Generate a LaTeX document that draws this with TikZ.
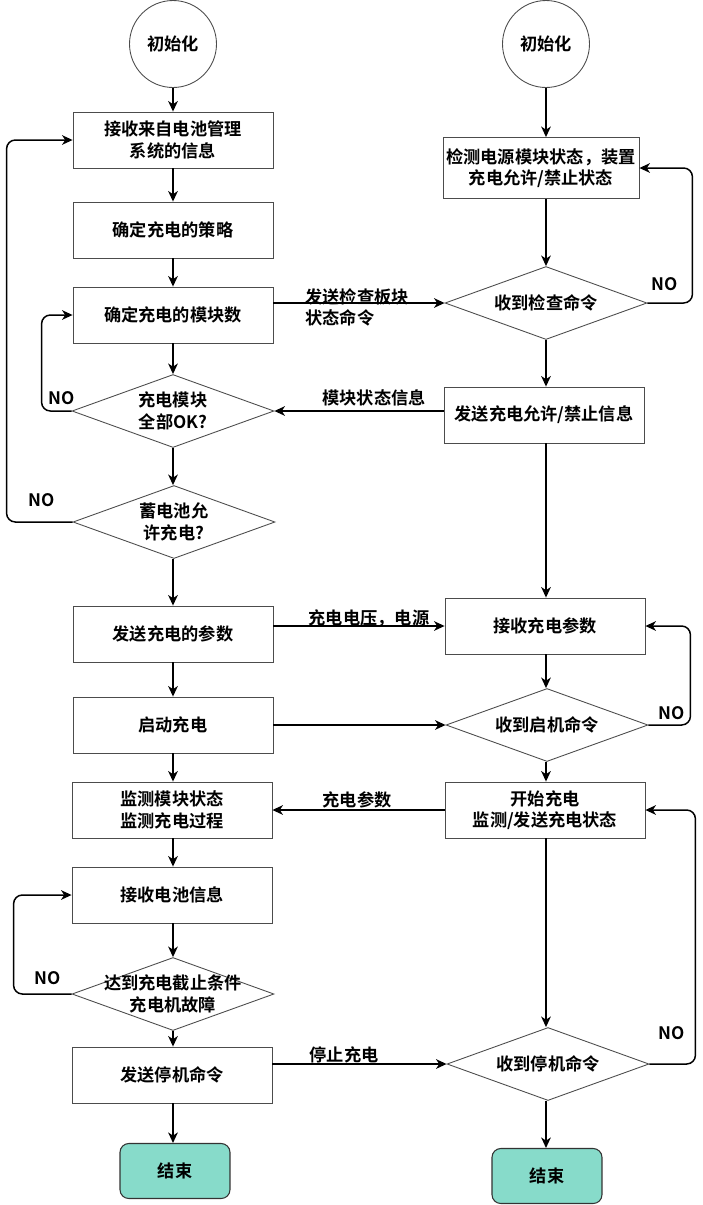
\documentclass[tikz,border=0pt]{standalone}
\usepackage{fontspec}
\setmainfont{Noto Sans CJK SC}[BoldFont={Noto Sans CJK SC Bold}]
\usetikzlibrary{shapes.geometric,arrows.meta}
\definecolor{endfill}{HTML}{87DBCA}
\newcommand{\lblfont}{\bfseries\fontsize{9.8}{12.2}\selectfont}
\tikzset{
  box/.style={draw=black!70,line width=0.5pt,minimum width=4cm,minimum height=1.12cm,inner sep=1pt,align=center,font=\lblfont},
  dia/.style={draw=black!70,line width=0.5pt,diamond,minimum width=4.04cm,minimum height=1.46cm,inner sep=0pt},
  dtext/.style={align=center,font=\lblfont},
  initc/.style={draw=black!70,line width=0.5pt,circle,minimum size=1.74cm,inner sep=0pt,font=\lblfont},
  endbox/.style={draw=black!80,line width=0.6pt,fill=endfill,rounded corners=5pt,minimum width=2.2cm,minimum height=1.1cm,font=\lblfont},
  tag/.style={font=\lblfont,inner sep=0pt},
  arr/.style={->,line width=0.85pt},
}
\begin{document}
\begin{tikzpicture}[x=0.02cm,y=-0.02cm,>={Stealth[length=6pt,width=5.5pt,inset=1.8pt]}]
  \useasboundingbox (0,0) rectangle (703,1205);
  % left column
  \node[initc] at (173,44) (initL) {初始化};
  \node[box] at (173,140) (recv) {接收来自电池管理\\系统的信息};
  \node[box] at (173,230) (strat) {确定充电的策略};
  \node[box] at (173,315) (modn) {确定充电的模块数};
  \node[dia,label={[dtext]center:{充电模块\\全部OK?}}] at (173,411) (okq) {};
  \node[dia,label={[dtext]center:{蓄电池允\\许充电?}}] at (174,522) (batq) {};
  \node[box] at (173,634) (sendp) {发送充电的参数};
  \node[box] at (173,725) (start) {启动充电};
  \node[box] at (172,810) (mon) {监测模块状态\\监测充电过程};
  \node[box] at (172,895) (rbat) {接收电池信息};
  \node[dia,label={[dtext]center:{达到充电截止条件\\充电机故障}}] at (173,994) (stopq) {};
  \node[box] at (172,1075) (sendstop) {发送停机命令};
  \node[endbox] at (175,1171) (endL) {结束};
  % right column
  \node[initc] at (546,44) (initR) {初始化};
  \node[box,minimum width=3.92cm,minimum height=1.22cm] at (541,168) (detect) {检测电源模块状态，装置\\充电允许/禁止状态};
  \node[dia,label={[dtext]center:收到检查命令}] at (546,303) (chkq) {};
  \node[box] at (544,415) (sendok) {发送充电允许/禁止信息};
  \node[box] at (545,626) (recvp) {接收充电参数};
  \node[dia,label={[dtext]center:收到启机命令}] at (547,725) (startq) {};
  \node[box] at (545,810) (startch) {开始充电\\监测/发送充电状态};
  \node[dia,label={[dtext]center:收到停机命令}] at (548,1064) (stopqR) {};
  \node[endbox] at (547,1176) (endR) {结束};

  % straight down the columns
  \foreach \a/\b in {initL/recv,recv/strat,strat/modn,modn/okq,okq/batq,batq/sendp,sendp/start,start/mon,mon/rbat,rbat/stopq,stopq/sendstop,sendstop/endL}
    \draw[arr] (\a.south -| initL) -- (\b.north -| initL);
  \foreach \a/\b in {initR/detect,detect/chkq,chkq/sendok,sendok/recvp,recvp/startq,startq/startch,startch/stopqR,stopqR/endR}
    \draw[arr] (\a.south -| initR) -- (\b.north -| initR);

  % NO loops
  \draw[arr,rounded corners=5pt] (batq.west) -- ++(-66,0) |- (recv.west);
  \draw[arr,rounded corners=5pt] (okq.west) -- ++(-30,0) |- (modn.west);
  \draw[arr,rounded corners=5pt] (stopq.west) -- ++(-58,0) |- (rbat.west);
  \draw[arr,rounded corners=5pt] (chkq.east) -- ++(45,0) |- (detect.east);
  \draw[arr,rounded corners=5pt] (startq.east) -- ++(42,0) |- (recvp.east);
  \draw[arr,rounded corners=5pt] (stopqR.east) -- ++(46,0) |- (startch.east);
  \node[tag] at (42,500) (no1) {NO};
  \node[tag] at (62,398) (no2) {NO};
  \node[tag] at (48,978) (no3) {NO};
  \node[tag] at (665,284) (no4) {NO};
  \node[tag] at (672,713) (no5) {NO};
  \node[tag] at (672,1033) (no6) {NO};

  % messages between the two sides
  \draw[arr] (modn.east |- chkq.west) -- (chkq.west);
  \node[tag,align=left,anchor=north west] at (305,288) (m1) {发送检查板块\\状态命令};
  \draw[arr] (sendok.west |- okq.east) -- (okq.east);
  \node[tag] at (374,398) (m2) {模块状态信息};
  \draw[arr] (sendp.east |- recvp.west) -- (recvp.west);
  \node[tag] at (369,618) (m3) {充电电压，电源};
  \draw[arr] (start.east) -- (startq.west);
  \draw[arr] (startch.west) -- (startch.west -| mon.east);
  \node[tag] at (357,800) (m4) {充电参数};
  \draw[arr] (sendstop.east |- stopqR.west) -- (stopqR.west);
  \node[tag] at (344,1055) (m5) {停止充电};
\end{tikzpicture}
\end{document}
